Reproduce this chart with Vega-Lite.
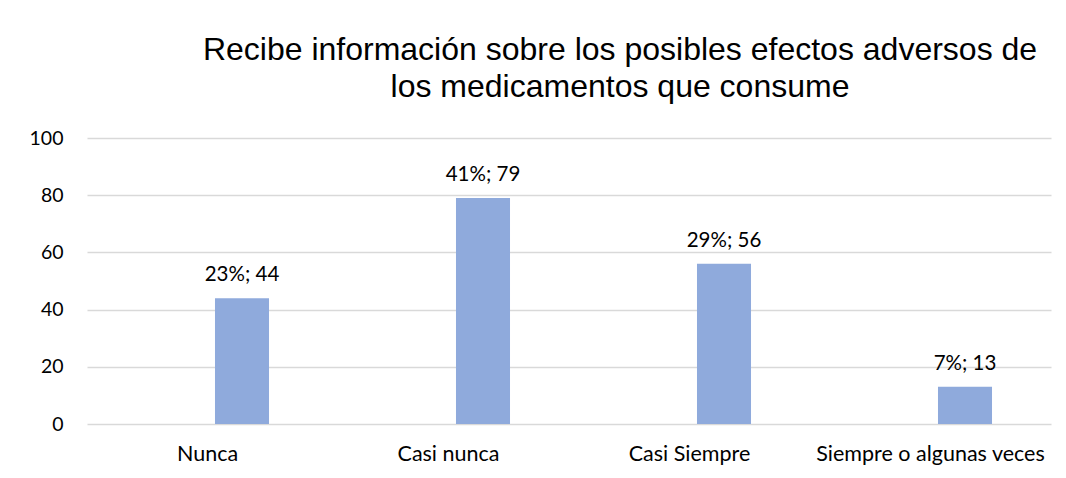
{
  "$schema": "https://vega.github.io/schema/vega-lite/v6.json",
  "width": 964,
  "height": 286,
  "autosize": {"type": "none"},
  "padding": {"left": 87, "top": 138, "right": 15, "bottom": 54},
  "background": "white",
  "title": {
    "text": ["Recibe información sobre los posibles efectos adversos de", "los medicamentos que consume"],
    "font": "Liberation Sans",
    "fontSize": 32,
    "fontWeight": "normal",
    "color": "#000000",
    "lineHeight": 37,
    "anchor": "middle",
    "dx": 51,
    "offset": 24
  },
  "data": {
    "values": [
      {"categoria": "Nunca", "serie": "Frecuencia", "valor": 44, "etiqueta": "23%; 44"},
      {"categoria": "Casi nunca", "serie": "Frecuencia", "valor": 79, "etiqueta": "41%; 79"},
      {"categoria": "Casi Siempre", "serie": "Frecuencia", "valor": 56, "etiqueta": "29%; 56"},
      {"categoria": "Siempre o algunas veces", "serie": "Frecuencia", "valor": 13, "etiqueta": "7%; 13"}
    ]
  },
  "encoding": {
    "x": {
      "field": "categoria",
      "type": "nominal",
      "sort": null,
      "title": null,
      "scale": {"paddingInner": 0, "paddingOuter": 0},
      "axis": {
        "labelAngle": 0,
        "labelFont": "Lato",
        "labelFontSize": 21.5,
        "labelColor": "#000000",
        "labelPadding": 19,
        "labelLimit": 0,
        "ticks": false,
        "domain": false,
        "grid": false
      }
    },
    "xOffset": {
      "field": "serie",
      "type": "nominal",
      "scale": {"domain": ["Vacía", "Frecuencia"], "paddingInner": 0.217, "paddingOuter": 0.855}
    },
    "y": {
      "field": "valor",
      "type": "quantitative",
      "title": null,
      "scale": {"domain": [0, 100]},
      "axis": {
        "values": [0, 20, 40, 60, 80, 100],
        "labelFont": "Lato",
        "labelFontSize": 19.5,
        "labelColor": "#000000",
        "labelPadding": 24,
        "ticks": false,
        "domain": false,
        "gridColor": "#d9d9d9",
        "gridWidth": 1.5
      }
    }
  },
  "layer": [
    {"mark": {"type": "bar", "color": "#8faadc"}},
    {
      "mark": {"type": "text", "font": "Lato", "fontSize": 20.5, "color": "#000000", "baseline": "alphabetic", "dy": -17},
      "encoding": {"text": {"field": "etiqueta"}}
    }
  ],
  "config": {"view": {"stroke": null}}
}
